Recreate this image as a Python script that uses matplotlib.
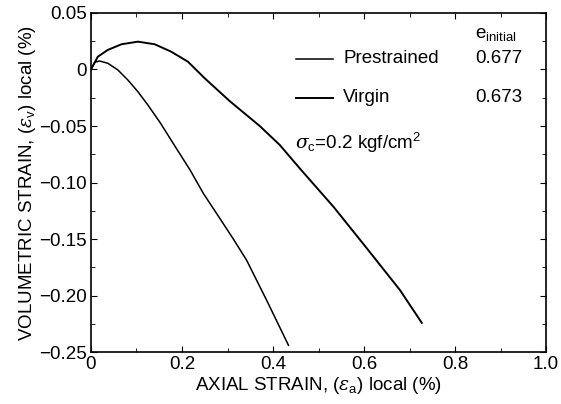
import matplotlib
matplotlib.use("Agg")
import matplotlib.pyplot as plt
from matplotlib.ticker import MultipleLocator, FixedLocator

plt.rcParams['font.family'] = ['Liberation Sans', 'DejaVu Sans']
plt.rcParams['mathtext.fontset'] = 'custom'
plt.rcParams['mathtext.rm'] = 'Liberation Sans'
plt.rcParams['mathtext.it'] = 'DejaVu Serif:italic'

# Virgin (upper curve)
virgin_x = [0.0, 0.015, 0.037, 0.067, 0.103, 0.14, 0.176, 0.213, 0.25, 0.305,
            0.371, 0.415, 0.459, 0.533, 0.606, 0.679, 0.727]
virgin_y = [0.0, 0.0113, 0.0173, 0.0223, 0.0246, 0.0223, 0.0158, 0.0069, -0.0078,
            -0.028, -0.050, -0.0668, -0.0875, -0.1214, -0.158, -0.195, -0.224]

# Prestrained (lower curve)
pre_x = [0.0, 0.008, 0.019, 0.037, 0.059, 0.081, 0.103, 0.125, 0.152, 0.188,
         0.218, 0.247, 0.287, 0.313, 0.342, 0.386, 0.434]
pre_y = [0.0, 0.0064, 0.0075, 0.0055, -0.0004, -0.0093, -0.0196, -0.0314, -0.047,
         -0.070, -0.089, -0.1096, -0.134, -0.150, -0.1686, -0.204, -0.2438]

x_ticks = [0, 0.2, 0.4, 0.6, 0.8, 1.0]
x_labels = ['0', '0.2', '0.4', '0.6', '0.8', '1.0']
y_ticks = [0.05, 0, -0.05, -0.10, -0.15, -0.20, -0.25]
y_labels = ['0.05', '0', '\u22120.05', '\u22120.10', '\u22120.15', '\u22120.20', '\u22120.25']

fig = plt.figure(figsize=(5.61, 4.04), dpi=100)
ax = fig.add_axes([0.1622, 0.128, 0.9733 - 0.1622, 0.968 - 0.128])

ax.plot(virgin_x, virgin_y, color='black', lw=1.4, solid_joinstyle='round')
ax.plot(pre_x, pre_y, color='black', lw=1.1, solid_joinstyle='round')

ax.set_xlim(0, 1.0)
ax.set_ylim(-0.25, 0.05)
ax.xaxis.set_major_locator(FixedLocator(x_ticks))
ax.set_xticklabels(x_labels)
ax.yaxis.set_major_locator(FixedLocator(y_ticks))
ax.set_yticklabels(y_labels)
ax.xaxis.set_minor_locator(MultipleLocator(0.1))
ax.yaxis.set_minor_locator(MultipleLocator(0.025))
ax.tick_params(which='both', direction='in', top=True, right=True, labelsize=13.5, pad=3)
ax.tick_params(which='major', length=4)
ax.tick_params(which='minor', length=3)
for s in ax.spines.values():
    s.set_linewidth(1.2)

ax.set_xlabel(r'AXIAL STRAIN, ($\varepsilon_{\rm a}$) local (%)', fontsize=13.5, labelpad=1)
ax.set_ylabel(r'VOLUMETRIC STRAIN, ($\varepsilon_{\rm v}$) local (%)', fontsize=13.5, labelpad=1)

# legend-like annotation
ax.plot([0.450, 0.532], [0.0093, 0.0093], color='black', lw=1.1)
ax.plot([0.450, 0.532], [-0.0252, -0.0252], color='black', lw=1.4)
ax.text(0.554, 0.0093, 'Prestrained', fontsize=13.5, va='center')
ax.text(0.554, -0.0252, 'Virgin', fontsize=13.5, va='center')
ax.text(0.844, 0.0093, '0.677', fontsize=13.5, va='center')
ax.text(0.844, -0.0252, '0.673', fontsize=13.5, va='center')
ax.text(0.844, 0.031, r'e$_{\rm initial}$', fontsize=13.5, va='center')
ax.text(0.448, -0.065, r'$\sigma_{\rm c}$=0.2 kgf/cm$^{2}$', fontsize=13.5, va='center')

fig.savefig('out.png', dpi=100)
